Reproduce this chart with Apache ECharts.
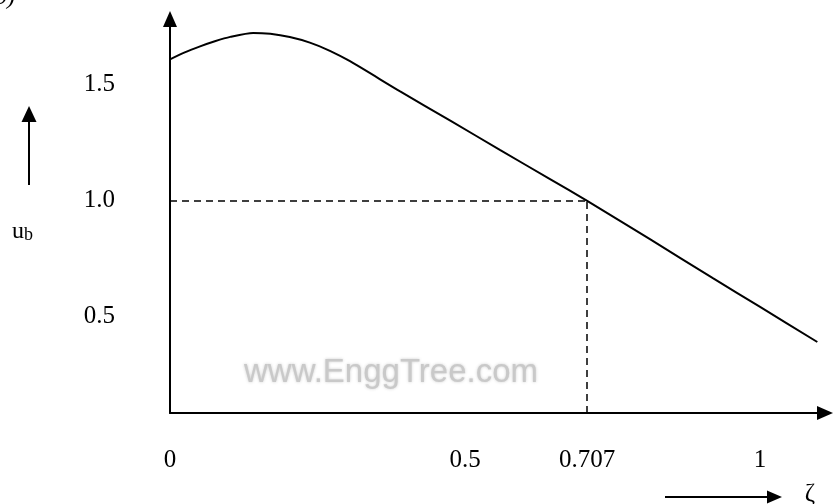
<!DOCTYPE html>
<html>
<head>
<meta charset="utf-8">
<script src="https://cdn.jsdelivr.net/npm/echarts@6/dist/echarts.min.js"></script>
<style>
  html, body { margin: 0; padding: 0; background: #ffffff; }
  #chart { width: 833px; height: 504px; }
</style>
</head>
<body>
<div id="chart"></div>
<script>
// Damping ratio ζ and the corresponding u_b values along the curve
const zeta = [0, 0.025, 0.051, 0.076, 0.102, 0.141, 0.170, 0.203, 0.237, 0.271, 0.305, 0.390, 0.475, 0.559, 0.644, 0.707, 0.814, 0.920, 1.000, 1.097];
const ub   = [1.610, 1.640, 1.666, 1.688, 1.707, 1.724, 1.720, 1.706, 1.682, 1.647, 1.602, 1.472, 1.346, 1.220, 1.094, 1.000, 0.834, 0.667, 0.543, 0.392];

// Marked operating point (dashed guides)
const markZeta = 0.707;
const markUb = 1.0;

// Tick labels
const xTickValues = [0, 0.5, 0.707, 1];
const xTickLabels = ['0', '0.5', '0.707', '1'];
const yTickValues = [0.5, 1.0, 1.5];
const yTickLabels = ['0.5', '1.0', '1.5'];

// Axis extents
const xMin = 0, xMax = 1.110;
const yMin = 0.086, yMax = 1.784;

const serif = '"Liberation Serif", "DejaVu Serif", serif';

const chart = echarts.init(document.getElementById('chart'), null, { renderer: 'canvas' });

const axisLine = {
  show: true,
  onZero: false,
  symbol: ['none', 'triangle'],
  symbolSize: [14, 16],
  lineStyle: { color: '#000', width: 2 }
};

chart.setOption({
  animation: false,
  backgroundColor: '#ffffff',
  grid: { left: 170, right: 8, top: 19, bottom: 91, containLabel: false },
  xAxis: {
    type: 'value',
    min: xMin,
    max: xMax,
    axisLine: axisLine,
    axisTick: { show: false },
    splitLine: { show: false },
    axisLabel: {
      customValues: xTickValues,
      formatter: function (v) {
        const i = xTickValues.indexOf(v);
        return i >= 0 ? xTickLabels[i] : '';
      },
      margin: 35,
      lineHeight: 24,
      color: '#000',
      fontFamily: serif,
      fontSize: 25
    }
  },
  yAxis: {
    type: 'value',
    min: yMin,
    max: yMax,
    axisLine: axisLine,
    axisTick: { show: false },
    splitLine: { show: false },
    axisLabel: {
      customValues: yTickValues,
      formatter: function (v) {
        const i = yTickValues.indexOf(v);
        return i >= 0 ? yTickLabels[i] : '';
      },
      margin: 55,
      color: '#000',
      fontFamily: serif,
      fontSize: 25
    }
  },
  series: [{
    type: 'line',
    data: zeta.map(function (z, i) { return [z, ub[i]]; }),
    showSymbol: false,
    symbol: 'none',
    smooth: 0.25,
    lineStyle: { color: '#000', width: 2 },
    z: 3,
    markLine: {
      silent: true,
      symbol: ['none', 'none'],
      label: { show: false },
      lineStyle: { color: '#000', width: 1.5, type: [7, 5] },
      data: [
        [{ coord: [xMin, markUb] }, { coord: [markZeta, markUb] }],
        [{ coord: [markZeta, yMin] }, { coord: [markZeta, markUb] }]
      ]
    }
  }],
  graphic: [
    // panel tag, partly outside the frame
    { type: 'text', x: 15, y: 10, z: 10,
      style: { text: 'b)', fill: '#000', font: 'italic 24px ' + serif, textAlign: 'right', textVerticalAlign: 'bottom' } },
    // vertical quantity arrow
    { type: 'line', z: 10, shape: { x1: 29, y1: 185, x2: 29, y2: 118 }, style: { stroke: '#000', lineWidth: 2 } },
    { type: 'polygon', z: 10, shape: { points: [[29, 106], [21.5, 122], [36.5, 122]] }, style: { fill: '#000' } },
    // quantity name u_b
    { type: 'text', z: 10, x: 12, y: 244,
      style: {
        text: '{u|u}{b|b}',
        textVerticalAlign: 'bottom',
        rich: {
          u: { fontFamily: serif, fontSize: 24, fill: '#000', verticalAlign: 'bottom' },
          b: { fontFamily: serif, fontSize: 18, fill: '#000', verticalAlign: 'bottom' }
        }
      } },
    // horizontal quantity arrow
    { type: 'line', z: 10, shape: { x1: 665, y1: 497, x2: 770, y2: 497 }, style: { stroke: '#000', lineWidth: 2 } },
    { type: 'polygon', z: 10, shape: { points: [[782, 497], [767, 490.5], [767, 503.5]] }, style: { fill: '#000' } },
    { type: 'text', z: 10, x: 810, y: 494,
      style: { text: 'ζ', fill: '#000', font: '25px ' + serif, textAlign: 'center', textVerticalAlign: 'middle' } },
    // site watermark
    { type: 'text', z: 1, x: 391, y: 373,
      style: {
        text: 'www.EnggTree.com',
        fill: '#c9c9c9',
        font: '33px "Liberation Sans", Arial, sans-serif',
        textAlign: 'center',
        textVerticalAlign: 'middle',
        textShadowColor: 'rgba(200,200,200,0.9)',
        textShadowBlur: 3
      } }
  ]
});
</script>
</body>
</html>
